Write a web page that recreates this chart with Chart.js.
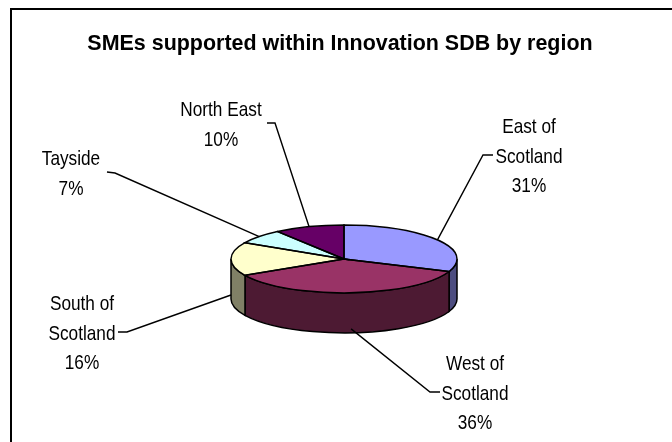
<!DOCTYPE html>
<html>
<head>
<meta charset="utf-8">
<script src="https://cdn.jsdelivr.net/npm/chart.js@4.4.0/dist/chart.umd.min.js"></script>
<style>
  body { margin: 0; background: #fff; }
  #wrap { width: 672px; height: 442px; }
</style>
</head>
<body>
<div id="wrap"><canvas id="chart1" width="672" height="442"></canvas></div>
<script>
// data
var chartTitle = "SMEs supported within Innovation SDB by region";
var regions = ["East of Scotland", "West of Scotland", "South of Scotland", "Tayside", "North East"];
var shares = [31, 36, 16, 7, 10];
var topColors = ["#9999FF", "#993366", "#FFFFCC", "#CCFFFF", "#660066"];
var wallColors = ["#4D4D80", "#4D1A33", "#808066", "#668080", "#330033"];

// look of the 3d pie
var tilt = 0.30;     // vertical squash of the pie top
var depth = 40;      // height of the pie wall
var labelFont = "21px 'Liberation Sans', Arial, sans-serif";
var labelSqueeze = 0.82;
var lineGap = 29.5;

// where each label sits (first line baseline) and its leader elbow / tick end
var labelSpots = [
    { x: 529, y: 133, elbow: [483, 155], tick: [493, 155] },
    { x: 475, y: 370, elbow: [430, 392], tick: [440, 392] },
    { x: 82,  y: 310, elbow: [127, 332], tick: [118, 332] },
    { x: 71,  y: 165, elbow: [115, 173], tick: [107, 172] },
    { x: 221, y: 116, elbow: [275, 123], tick: [267, 123] }
];

function squeezedText(ctx, str, cx, by, font, sx){
    ctx.save();
    ctx.translate(cx, by);
    ctx.scale(sx, 1);
    ctx.font = font;
    ctx.textAlign = "center";
    ctx.textBaseline = "alphabetic";
    ctx.fillStyle = "#000";
    ctx.fillText(str, 0, 0);
    ctx.restore();
}

// plugin: frame, title, walls, flattened top, outlines, labels
const pie3d = {
    id: "pie3d",
    beforeDraw(chart){
        const ctx = chart.ctx;
        ctx.save();
        ctx.fillStyle = "#000";
        ctx.fillRect(10, 8, 662, 2);
        ctx.fillRect(10, 8, 2, 434);
        ctx.restore();
        squeezedText(ctx, chartTitle, 340, 50, "bold 22px 'Liberation Sans', Arial, sans-serif", 0.975);
    },
    beforeDatasetsDraw(chart){
        const ctx = chart.ctx;
        const arcs = chart.getDatasetMeta(0).data;
        const cx = arcs[0].x, cy = arcs[0].y;
        const rx = arcs[0].outerRadius, ry = rx * tilt;
        // wall, only the front half shows
        arcs.forEach(function(arc, i){
            const a1 = Math.max(arc.startAngle, 0);
            const a2 = Math.min(arc.endAngle, Math.PI);
            if (a2 <= a1) return;
            ctx.beginPath();
            ctx.ellipse(cx, cy, rx, ry, 0, a1, a2);
            ctx.lineTo(cx + rx * Math.cos(a2), cy + depth + ry * Math.sin(a2));
            ctx.ellipse(cx, cy + depth, rx, ry, 0, a2, a1, true);
            ctx.closePath();
            ctx.fillStyle = wallColors[i];
            ctx.fill();
            ctx.strokeStyle = "#000";
            ctx.lineWidth = 1.5;
            ctx.stroke();
        });
        // flatten the pie top
        ctx.save();
        ctx.translate(cx, cy);
        ctx.scale(1, tilt);
        ctx.translate(-cx, -cy);
    },
    afterDatasetsDraw(chart){
        const ctx = chart.ctx;
        ctx.restore();
        const arcs = chart.getDatasetMeta(0).data;
        const cx = arcs[0].x, cy = arcs[0].y;
        const rx = arcs[0].outerRadius, ry = rx * tilt;
        const total = shares.reduce(function(a, b){ return a + b; }, 0);

        ctx.strokeStyle = "#000";
        ctx.lineWidth = 1.5;
        arcs.forEach(function(arc){
            ctx.beginPath();
            ctx.moveTo(cx, cy);
            ctx.lineTo(cx + rx * Math.cos(arc.startAngle), cy + ry * Math.sin(arc.startAngle));
            ctx.ellipse(cx, cy, rx, ry, 0, arc.startAngle, arc.endAngle);
            ctx.closePath();
            ctx.stroke();
        });

        ctx.lineWidth = 1.4;
        arcs.forEach(function(arc, i){
            const mid = (arc.startAngle + arc.endAngle) / 2;
            let px = cx + rx * Math.cos(mid);
            let py = cy + ry * Math.sin(mid);
            if (Math.sin(mid) > -0.05) py += depth * 0.9;
            const spot = labelSpots[i];
            ctx.beginPath();
            ctx.moveTo(px, py);
            ctx.lineTo(spot.elbow[0], spot.elbow[1]);
            ctx.lineTo(spot.tick[0], spot.tick[1]);
            ctx.stroke();

            const lines = regions[i].replace(" of ", " of\n").split("\n");
            lines.push(Math.round(shares[i] / total * 100) + "%");
            lines.forEach(function(t, k){
                squeezedText(ctx, t, spot.x, spot.y + k * lineGap, labelFont, labelSqueeze);
            });
        });
    }
};

const ctx = document.getElementById("chart1").getContext("2d");
const myChart = new Chart(ctx, {
    type: "pie",
    data: {
        labels: regions,
        datasets: [{
            data: shares,
            backgroundColor: topColors,
            borderWidth: 0
        }]
    },
    options: {
        responsive: false,
        animation: false,
        events: [],
        radius: 113,
        layout: { padding: { left: 100, right: 84, top: 100, bottom: 24 } },
        plugins: {
            legend: { display: false },
            title: { display: false },
            tooltip: { enabled: false }
        }
    },
    plugins: [pie3d]
});
</script>
</body>
</html>
